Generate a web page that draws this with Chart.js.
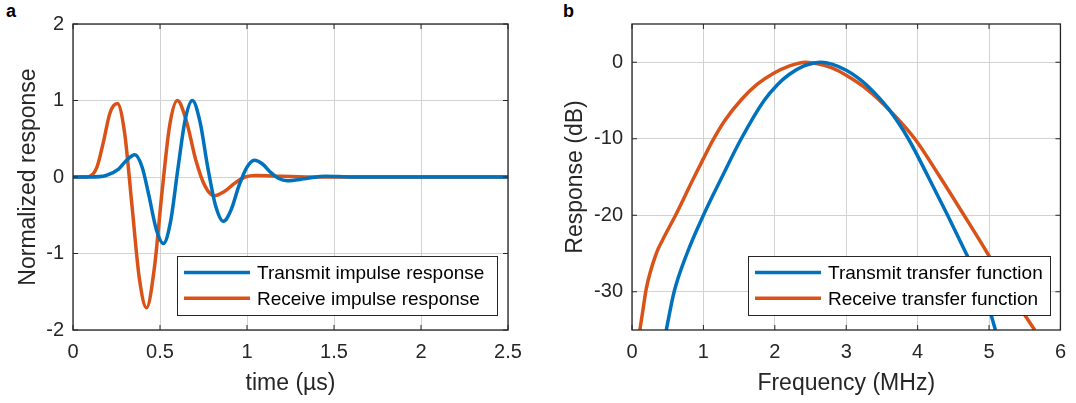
<!DOCTYPE html>
<html>
<head>
<meta charset="utf-8">
<script src="https://cdn.jsdelivr.net/npm/chart.js@4"></script>
<style>
  body { margin: 0; background: #fff; width: 1076px; height: 403px; position: relative; overflow: hidden; }
  .panel { position: absolute; top: 0; }
  .tag { position: absolute; top: 1px; font: bold 18px "Liberation Sans", Arial, sans-serif; color: #000; }
</style>
</head>
<body>
<div class="tag" style="left:6px">a</div>
<div class="tag" style="left:563px">b</div>
<canvas id="impulseChart" class="panel" style="left:0px" width="540" height="403"></canvas>
<canvas id="transferChart" class="panel" style="left:540px" width="536" height="403"></canvas>
<script>
// panel a: impulse responses (time in µs, normalized amplitude)
const tTransmit = [0, 0.10, 0.19, 0.26, 0.30, 0.356, 0.397, 0.437, 0.478, 0.519, 0.561, 0.6025, 0.644, 0.686, 0.73, 0.775, 0.82, 0.864, 0.9085, 0.953, 0.9975, 1.042, 1.089, 1.136, 1.183, 1.23, 1.34, 1.45, 1.6, 2.5];
const vTransmit = [0, 0, 0.02, 0.1, 0.2, 0.29, 0.13, -0.25, -0.68, -0.87, -0.58, 0.1, 0.74, 1.0, 0.72, 0.12, -0.38, -0.58, -0.43, -0.12, 0.12, 0.22, 0.17, 0.06, -0.02, -0.05, -0.02, 0.01, 0, 0];
const tReceive = [0, 0.08, 0.136, 0.174, 0.213, 0.255, 0.297, 0.339, 0.381, 0.423, 0.467, 0.5115, 0.556, 0.60, 0.653, 0.706, 0.759, 0.812, 0.87, 0.93, 0.99, 1.05, 1.2, 1.4, 2.5];
const vReceive = [0, 0, 0.12, 0.45, 0.84, 0.96, 0.57, -0.375, -1.32, -1.71, -1.2, -0.2, 0.68, 1.0, 0.72, 0.22, -0.12, -0.245, -0.19, -0.08, 0, 0.02, 0.01, 0, 0];

// panel b: transfer functions (MHz, dB)
const fTransmit = [0.48, 0.59, 0.77, 1.0, 1.26, 1.53, 1.85, 2.04, 2.2, 2.4, 2.55, 2.65, 2.8, 3.0, 3.15, 3.3, 3.6, 3.87, 4.15, 4.42, 4.68, 4.93, 5.09];
const dbTransmit = [-35, -30, -25, -20, -15, -10, -5, -2.9, -1.6, -0.5, -0.1, 0, -0.25, -1.05, -1.95, -3.1, -6.2, -10, -15, -20, -25, -30, -35];
const fReceive = [0.11, 0.15, 0.2, 0.34, 0.43, 0.61, 0.85, 1.0, 1.12, 1.3, 1.53, 1.75, 1.99, 2.2, 2.43, 2.6, 2.8, 3.0, 3.3, 3.6, 3.96, 4.3, 4.65, 4.98, 5.29, 5.64];
const dbReceive = [-35, -32.6, -29.6, -25, -23.2, -20, -15.4, -12.6, -10.4, -7.6, -4.9, -2.9, -1.4, -0.5, 0, -0.2, -0.75, -1.7, -3.6, -6.2, -10, -14.8, -20, -25, -30, -35];

const xTicksA = [0, 0.5, 1, 1.5, 2, 2.5];
const yTicksA = [-2, -1, 0, 1, 2];
const xTicksB = [0, 1, 2, 3, 4, 5, 6];
const yTicksB = [-30, -20, -10, 0];

const BLUE = '#0072BD';
const ORANGE = '#D95319';
const FONT = '"Liberation Sans", Arial, Helvetica, sans-serif';
const GRID = '#d2d2d2';
const INK = '#262626';

const pts = (xs, ys) => xs.map((x, i) => ({ x: x, y: ys[i] }));

// box around the axes plus small inward ticks, like matlab "box on"
const axesBox = {
    id: 'axesBox',
    afterDatasetsDraw(chart) {
        const { ctx, chartArea: a, scales } = chart;
        ctx.save();
        ctx.strokeStyle = INK;
        ctx.lineWidth = 1.3;
        ctx.strokeRect(a.left, a.top, a.right - a.left, a.bottom - a.top);
        ctx.lineWidth = 1;
        ctx.beginPath();
        scales.x.ticks.forEach(t => {
            const px = scales.x.getPixelForValue(t.value);
            ctx.moveTo(px, a.bottom); ctx.lineTo(px, a.bottom - 5);
            ctx.moveTo(px, a.top); ctx.lineTo(px, a.top + 5);
        });
        scales.y.ticks.forEach(t => {
            const py = scales.y.getPixelForValue(t.value);
            ctx.moveTo(a.left, py); ctx.lineTo(a.left + 5, py);
            ctx.moveTo(a.right, py); ctx.lineTo(a.right - 5, py);
        });
        ctx.stroke();
        ctx.restore();
    }
};

// legend box inside the axes, bottom right
const boxLegend = {
    id: 'boxLegend',
    afterDraw(chart, args, opts) {
        const { ctx, chartArea: a } = chart;
        const x = a.left + opts.x;
        const y = a.bottom - 74;
        const h = 59;
        ctx.save();
        ctx.fillStyle = '#fff';
        ctx.fillRect(x, y, opts.width, h);
        ctx.strokeStyle = INK;
        ctx.lineWidth = 1;
        ctx.strokeRect(x + 0.5, y + 0.5, opts.width, h);
        ctx.font = '19px ' + FONT;
        ctx.textBaseline = 'middle';
        chart.data.datasets.forEach((d, i) => {
            const cy = y + 16.5 + i * 25.8;
            ctx.strokeStyle = d.borderColor;
            ctx.lineWidth = 3.5;
            ctx.beginPath();
            ctx.moveTo(x + 7, cy);
            ctx.lineTo(x + 73, cy);
            ctx.stroke();
            ctx.fillStyle = '#000';
            ctx.fillText(d.label, x + 80, cy + 1);
        });
        ctx.restore();
    }
};

function makeChart(id, cfg) {
    const ctx = document.getElementById(id).getContext('2d');
    return new Chart(ctx, {
        type: 'line',
        data: {
            datasets: cfg.series.map(s => ({
                label: s.label,
                data: s.data,
                borderColor: s.color,
                backgroundColor: s.color,
                borderWidth: 3.5,
                pointRadius: 0,
                fill: false,
                cubicInterpolationMode: 'monotone'
            }))
        },
        options: {
            responsive: false,
            animation: false,
            devicePixelRatio: 1,
            layout: { padding: { left: 0, right: cfg.padRight, top: 24, bottom: 0 } },
            plugins: {
                legend: { display: false },
                tooltip: { enabled: false },
                boxLegend: cfg.legend
            },
            scales: {
                x: {
                    type: 'linear',
                    min: cfg.xMin, max: cfg.xMax,
                    afterBuildTicks: s => { s.ticks = cfg.xTicks.map(v => ({ value: v })); },
                    afterFit: s => { s.height = 73; },
                    grid: { color: GRID, drawTicks: false },
                    border: { display: false },
                    ticks: {
                        color: INK, padding: 10, font: { family: FONT, size: 20 },
                        callback: v => String(v)
                    },
                    title: {
                        display: true, text: cfg.xTitle, color: INK,
                        font: { family: FONT, size: 23 },
                        padding: { top: 0, bottom: 6 }
                    }
                },
                y: {
                    type: 'linear',
                    min: cfg.yMin, max: cfg.yMax,
                    afterBuildTicks: s => { s.ticks = cfg.yTicks.map(v => ({ value: v })); },
                    afterFit: s => { s.width = cfg.yWidth; },
                    grid: { color: GRID, drawTicks: false },
                    border: { display: false },
                    ticks: {
                        color: INK, padding: 9, font: { family: FONT, size: 20 },
                        callback: v => String(v)
                    },
                    title: {
                        display: true, text: cfg.yTitle, color: INK,
                        font: { family: FONT, size: 23 },
                        padding: { top: cfg.yTitlePad, bottom: 0 }
                    }
                }
            }
        },
        plugins: [axesBox, boxLegend]
    });
}

makeChart('impulseChart', {
    series: [
        { label: 'Transmit impulse response', data: pts(tTransmit, vTransmit), color: BLUE },
        { label: 'Receive impulse response', data: pts(tReceive, vReceive), color: ORANGE }
    ],
    xMin: 0, xMax: 2.5, yMin: -2, yMax: 2,
    xTicks: xTicksA, yTicks: yTicksA,
    xTitle: 'time (\u00b5s)', yTitle: 'Normalized response',
    padRight: 32, yWidth: 73, yTitlePad: 15,
    legend: { x: 104, width: 320 }
});

makeChart('transferChart', {
    series: [
        { label: 'Transmit transfer function', data: pts(fTransmit, dbTransmit), color: BLUE },
        { label: 'Receive transfer function', data: pts(fReceive, dbReceive), color: ORANGE }
    ],
    xMin: 0, xMax: 6, yMin: -35, yMax: 5,
    xTicks: xTicksB, yTicks: yTicksB,
    xTitle: 'Frequency (MHz)', yTitle: 'Response (dB)',
    padRight: 8, yWidth: 92, yTitlePad: 22,
    legend: { x: 116, width: 302 }
});
</script>
</body>
</html>
